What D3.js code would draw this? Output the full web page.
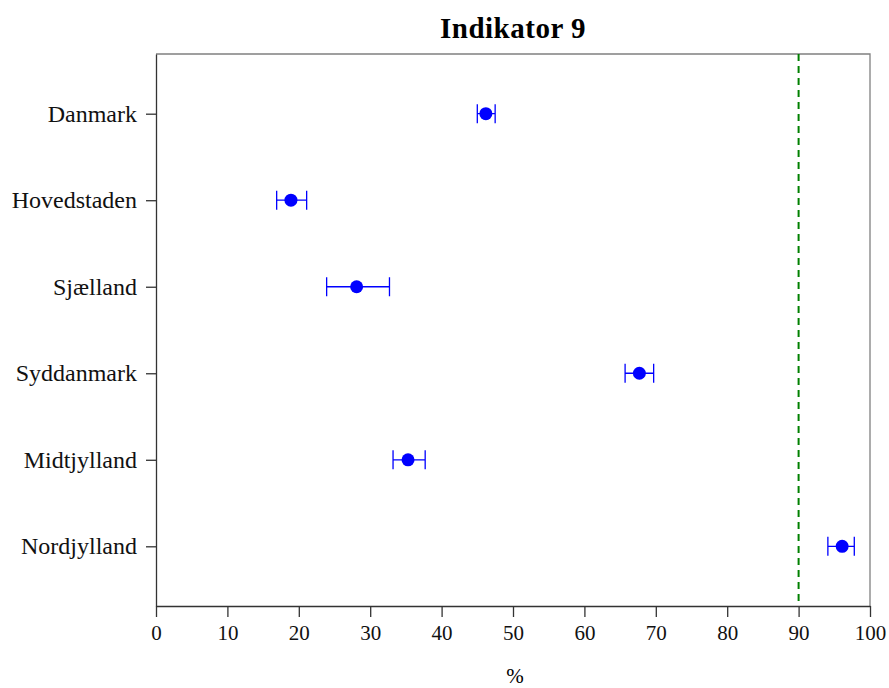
<!DOCTYPE html>
<html><head><meta charset="utf-8">
<script src="https://cdn.jsdelivr.net/npm/d3@7"></script>
<style>body{margin:0;background:#fff}svg{display:block}</style>
</head><body>
<script>
const categories = ["Danmark","Hovedstaden","Sjælland","Syddanmark","Midtjylland","Nordjylland"];
const estimates = [46.2, 18.9, 28.1, 67.7, 35.3, 96.1];
const lower = [45.0, 16.9, 23.9, 65.7, 33.2, 94.1];
const upper = [47.5, 21.1, 32.7, 69.7, 37.7, 97.8];
const xTicks = [0,10,20,30,40,50,60,70,80,90,100];
const target = 90;
const title = "Indikator 9";
const xLabel = "%";

const W = 889, H = 688;
const m = {left:156, right:19, top:54, bottom:82};
const svg = d3.select("body").append("svg").attr("width",W).attr("height",H);
const font = "'Liberation Serif','Times New Roman',serif";

const x = d3.scaleLinear().domain([0,100]).range([m.left, W-m.right]);
const y = d3.scalePoint().domain(categories).range([m.top, H-m.bottom]).padding(0.69);

// box (top and right)
svg.append("path")
  .attr("d", `M${m.left},${m.top}H${W-m.right}V${H-m.bottom}`)
  .attr("fill","none").attr("stroke","#808080").attr("stroke-width",1.3);

// x axis
const xa = svg.append("g").attr("transform",`translate(0,${H-m.bottom})`)
  .call(d3.axisBottom(x).tickValues(xTicks).tickSize(11).tickPadding(8).tickSizeOuter(0));
xa.select(".domain").attr("stroke","#333").attr("stroke-width",1.3);
xa.selectAll(".tick line").attr("stroke","#333").attr("stroke-width",1.3);
xa.selectAll("text").attr("font-family",font).attr("font-size",21).attr("fill","#111");

// y axis
const ya = svg.append("g").attr("transform",`translate(${m.left},0)`)
  .call(d3.axisLeft(y).tickSize(10).tickPadding(9).tickSizeOuter(0));
ya.select(".domain").attr("stroke","#333").attr("stroke-width",1.3);
ya.selectAll(".tick line").attr("stroke","#333").attr("stroke-width",1.3);
ya.selectAll("text").attr("font-family",font).attr("font-size",24).attr("fill","#111");

// target line
svg.append("line")
  .attr("x1",x(target)).attr("x2",x(target))
  .attr("y1",m.top).attr("y2",H-m.bottom)
  .attr("stroke","#008000").attr("stroke-width",2).attr("stroke-dasharray","7,5");

// error bars + points
const data = categories.map((c,i)=>({c, v:estimates[i], lo:lower[i], hi:upper[i]}));
const g = svg.append("g");
const cap = 9.5;
g.selectAll(".eb").data(data).join("path")
  .attr("d", d => `M${x(d.lo)},${y(d.c)}H${x(d.hi)}M${x(d.lo)},${y(d.c)-cap}V${y(d.c)+cap}M${x(d.hi)},${y(d.c)-cap}V${y(d.c)+cap}`)
  .attr("fill","none").attr("stroke","#0000ff").attr("stroke-width",1.3);
g.selectAll("circle").data(data).join("circle")
  .attr("cx", d=>x(d.v)).attr("cy", d=>y(d.c)).attr("r",6.5).attr("fill","#0000ff");

// title
svg.append("text").attr("x",(m.left+W-m.right)/2).attr("y",38)
  .attr("text-anchor","middle").attr("font-family",font).attr("font-weight","bold")
  .attr("font-size",29).attr("letter-spacing",0.5).text(title);

// x label
svg.append("text").attr("x",(m.left+W-m.right)/2 + 2).attr("y",683)
  .attr("text-anchor","middle").attr("font-family",font).attr("font-size",21).text(xLabel);
</script>
</body></html>
